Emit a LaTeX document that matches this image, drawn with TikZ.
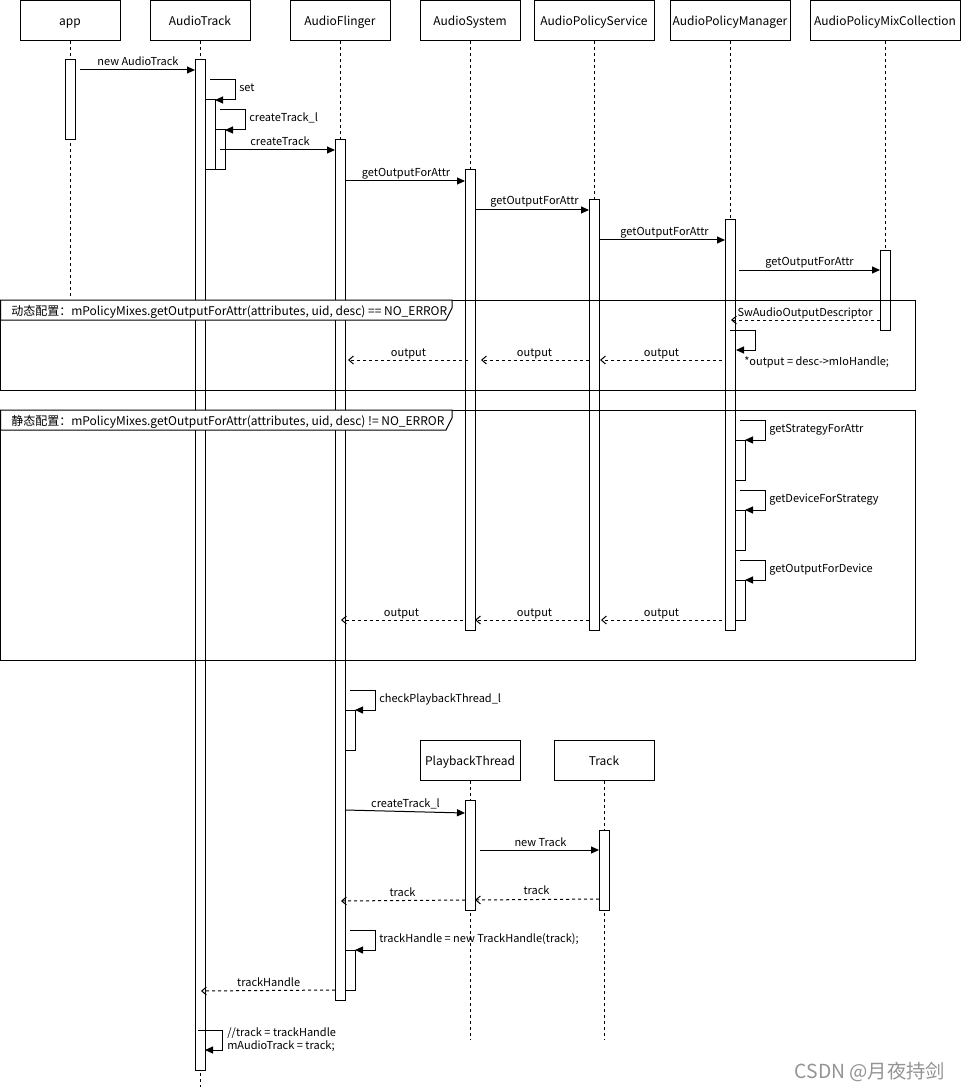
\documentclass[tikz,border=0pt]{standalone}
\usepackage{fontspec}
\setmainfont{Noto Sans CJK SC}
\usetikzlibrary{arrows.meta}
\begin{document}
\begin{tikzpicture}[x=0.75pt,y=-0.75pt,
  part/.style={draw, line width=0.75pt, minimum width=75pt, minimum height=30pt, inner sep=0pt, text height=8.2pt, text depth=0pt, font=\fontsize{9}{11}\selectfont},
  life/.style={line width=0.75pt, dash pattern=on 2.25pt off 2.25pt},
  actbar/.style={draw, fill=white, line width=0.75pt},
  msg/.style={line width=0.75pt, -{Triangle[length=6pt,width=5.25pt]}},
  retmsg/.style={line width=0.75pt, dash pattern=on 2.25pt off 2.25pt, -{Straight Barb[length=3.5pt,width=6pt]}},
  lbl/.style={font=\fontsize{8.25}{10}\selectfont, inner sep=0pt, anchor=base},
  lblw/.style={lbl, anchor=base west},
  frmlbl/.style={font=\fontsize{9}{11}\selectfont, inner sep=0pt, anchor=base west},
  frm/.style={draw, line width=0.75pt},
  tab/.style={draw, fill=white, line width=0.75pt}]
\useasboundingbox (0,0) rectangle (961,1091);
\fill[white] (0,0) rectangle (961,1091);

% participants
\node[part] (app) at (70,20.5) {app};
\node[part] (at) at (200,20.5) {AudioTrack};
\node[part] (af) at (340,20.5) {AudioFlinger};
\node[part] (as) at (470,20.5) {AudioSystem};
\node[part, minimum width=90pt] (aps) at (594,20.5) {AudioPolicyService};
\node[part, minimum width=90pt] (apm) at (730,20.5) {AudioPolicyManager};
\node[part, minimum width=112.5pt] (apmc) at (885,20.5) {AudioPolicyMixCollection};
\node[part] (pt) at (470,760) {PlaybackThread};
\node[part] (tr) at (604,760) {Track};

% lifeline ends
\coordinate (appE) at (70,297);
\coordinate (atE) at (200,1087);
\coordinate (afE) at (340,1000);
\coordinate (asE) at (470,630);
\coordinate (apsE) at (594,630);
\coordinate (apmE) at (730,630);
\coordinate (apmcE) at (885,330);
\coordinate (ptE) at (470,1040);
\coordinate (trE) at (604,1040);
\draw[life] (app.south) -- (appE);
\draw[life] (at.south) -- (atE);
\draw[life] (af.south) -- (afE);
\draw[life] (as.south) -- (asE);
\draw[life] (aps.south) -- (apsE);
\draw[life] (apm.south) -- (apmE);
\draw[life] (apmc.south) -- (apmcE);
\draw[life] (pt.south) -- (ptE);
\draw[life] (tr.south) -- (trE);

% activation bars
\draw[actbar] (65,60) rectangle (75,140);
\draw[actbar] (195,60) rectangle (205,1070);
\draw[actbar] (205,100) rectangle (215,170);
\draw[actbar] (215,130) rectangle (225,170);
\draw[actbar] (335,140) rectangle (345,1000);
\draw[actbar] (345,710) rectangle (355,750);
\draw[actbar] (345,950) rectangle (355,990);
\draw[actbar] (465,170) rectangle (475,630);
\draw[actbar] (589,200) rectangle (599,630);
\draw[actbar] (725,220) rectangle (735,630);
\draw[actbar] (735,440) rectangle (745,480);
\draw[actbar] (735,510) rectangle (745,550);
\draw[actbar] (735,580) rectangle (745,620);
\draw[actbar] (880,250) rectangle (890,330);
\draw[actbar] (465,800) rectangle (475,910);
\draw[actbar] (599,830) rectangle (609,910);

% frames
\draw[frm] (0.5,300) rectangle (915.5,390);
\draw[tab] (0.5,300) -- (452,300) -- (452,308) -- (446,320) -- (0.5,320) -- cycle;
\node[frmlbl] (f1) at (11,315) {动态配置：mPolicyMixes.getOutputForAttr(attributes, uid, desc) == NO\_ERROR};
\draw[frm] (0.5,410) rectangle (915.5,660);
\draw[tab] (0.5,410) -- (452,410) -- (452,418) -- (446,430) -- (0.5,430) -- cycle;
\node[frmlbl] (f2) at (11,425) {静态配置：mPolicyMixes.getOutputForAttr(attributes, uid, desc) != NO\_ERROR};

% messages
\coordinate (m1s) at (80,70); \coordinate (m1e) at (195,70);
\draw[msg] (m1s) -- (m1e);
\node[lbl] (l1) at (138,66) {new AudioTrack};

\coordinate (m2s) at (210,80); \coordinate (m2e) at (215,100);
\draw[msg] (m2s) -- (235,80) -- (235,100) -- (m2e);
\node[lblw] (l2) at (239,92) {set};

\coordinate (m3s) at (220,110); \coordinate (m3e) at (225,130);
\draw[msg] (m3s) -- (245,110) -- (245,130) -- (m3e);
\node[lblw] (l3) at (249,122) {createTrack\_l};

\coordinate (m4s) at (220,150); \coordinate (m4e) at (335,150);
\draw[msg] (m4s) -- (m4e);
\node[lbl] (l4) at (280,146) {createTrack};

\coordinate (m5s) at (345,181); \coordinate (m5e) at (465,181);
\draw[msg] (m5s) -- (m5e);
\node[lbl] (l5) at (406,177) {getOutputForAttr};

\coordinate (m6s) at (475,210); \coordinate (m6e) at (589,210);
\draw[msg] (m6s) -- (m6e);
\node[lbl] (l6) at (534.5,205) {getOutputForAttr};

\coordinate (m7s) at (599,240); \coordinate (m7e) at (725,240);
\draw[msg] (m7s) -- (m7e);
\node[lbl] (l7) at (664.5,235) {getOutputForAttr};

\coordinate (m8s) at (739,270); \coordinate (m8e) at (880,270);
\draw[msg] (m8s) -- (m8e);
\node[lbl] (l8) at (809.5,265) {getOutputForAttr};

% dynamic section
\coordinate (m9s) at (880,320); \coordinate (m9e) at (731,320);
\draw[retmsg] (m9s) -- (m9e);
\node[lbl] (l9) at (805,316) {SwAudioOutputDescriptor};

\coordinate (m10s) at (730,330); \coordinate (m10e) at (736,350);
\draw[msg] (m10s) -- (755,330) -- (755,350) -- (m10e);
\node[lblw] (l10) at (744,365) {*output = desc->mIoHandle;};

\coordinate (m11s) at (722,360); \coordinate (m11e) at (600,360);
\draw[retmsg] (m11s) -- (m11e);
\node[lbl] (l11) at (661.5,356) {output};
\coordinate (m12s) at (589,360); \coordinate (m12e) at (481,360);
\draw[retmsg] (m12s) -- (m12e);
\node[lbl] (l12) at (534.5,356) {output};
\coordinate (m13s) at (468,360); \coordinate (m13e) at (348,360);
\draw[retmsg] (m13s) -- (m13e);
\node[lbl] (l13) at (408.5,356) {output};

% static section
\coordinate (m14s) at (740,420); \coordinate (m14e) at (745,440);
\draw[msg] (m14s) -- (765,420) -- (765,440) -- (m14e);
\node[lblw] (l14) at (769,432) {getStrategyForAttr};
\coordinate (m15s) at (740,490); \coordinate (m15e) at (745,510);
\draw[msg] (m15s) -- (765,490) -- (765,510) -- (m15e);
\node[lblw] (l15) at (769,502) {getDeviceForStrategy};
\coordinate (m16s) at (740,560); \coordinate (m16e) at (745,580);
\draw[msg] (m16s) -- (765,560) -- (765,580) -- (m16e);
\node[lblw] (l16) at (769,572) {getOutputForDevice};

\coordinate (m17s) at (722,620); \coordinate (m17e) at (601,620);
\draw[retmsg] (m17s) -- (m17e);
\node[lbl] (l17) at (661.5,616) {output};
\coordinate (m18s) at (589,620); \coordinate (m18e) at (475,620);
\draw[retmsg] (m18s) -- (m18e);
\node[lbl] (l18) at (534.5,616) {output};
\coordinate (m19s) at (463,620); \coordinate (m19e) at (341,620);
\draw[retmsg] (m19s) -- (m19e);
\node[lbl] (l19) at (401.5,616) {output};

% after frames
\coordinate (m20s) at (350,690); \coordinate (m20e) at (355,710);
\draw[msg] (m20s) -- (375,690) -- (375,710) -- (m20e);
\node[lblw] (l20) at (379,702) {checkPlaybackThread\_l};

\coordinate (m21s) at (345,810); \coordinate (m21e) at (465,813);
\draw[msg] (m21s) -- (m21e);
\node[lbl] (l21) at (405.5,807) {createTrack\_l};

\coordinate (m22s) at (480,850); \coordinate (m22e) at (599,850);
\draw[msg] (m22s) -- (m22e);
\node[lbl] (l22) at (540.5,846) {new Track};

\coordinate (m23s) at (599,899); \coordinate (m23e) at (475,900);
\draw[retmsg] (m23s) -- (m23e);
\node[lbl] (l23) at (536.5,894) {track};
\coordinate (m24s) at (465,900); \coordinate (m24e) at (341,901);
\draw[retmsg] (m24s) -- (m24e);
\node[lbl] (l24) at (402.5,896.5) {track};

\coordinate (m25s) at (350,930); \coordinate (m25e) at (355,950);
\draw[msg] (m25s) -- (375,930) -- (375,950) -- (m25e);
\node[lblw] (l25) at (379,942) {trackHandle = new TrackHandle(track);};

\coordinate (m26s) at (335,990); \coordinate (m26e) at (201,991);
\draw[retmsg] (m26s) -- (m26e);
\node[lbl] (l26) at (268.7,986) {trackHandle};

\coordinate (m27s) at (198,1030); \coordinate (m27e) at (205,1050);
\draw[msg] (m27s) -- (222,1030) -- (222,1050) -- (m27e);
\node[lblw] (l27a) at (227,1036) {//track = trackHandle};
\node[lblw] (l27b) at (227,1049) {mAudioTrack = track;};

% watermark
\node[font=\fontsize{14.5}{17}\selectfont, text=black!42, inner sep=0pt, anchor=base] (wm) at (870,1078) {CSDN @月夜持剑};
\end{tikzpicture}
\end{document}
